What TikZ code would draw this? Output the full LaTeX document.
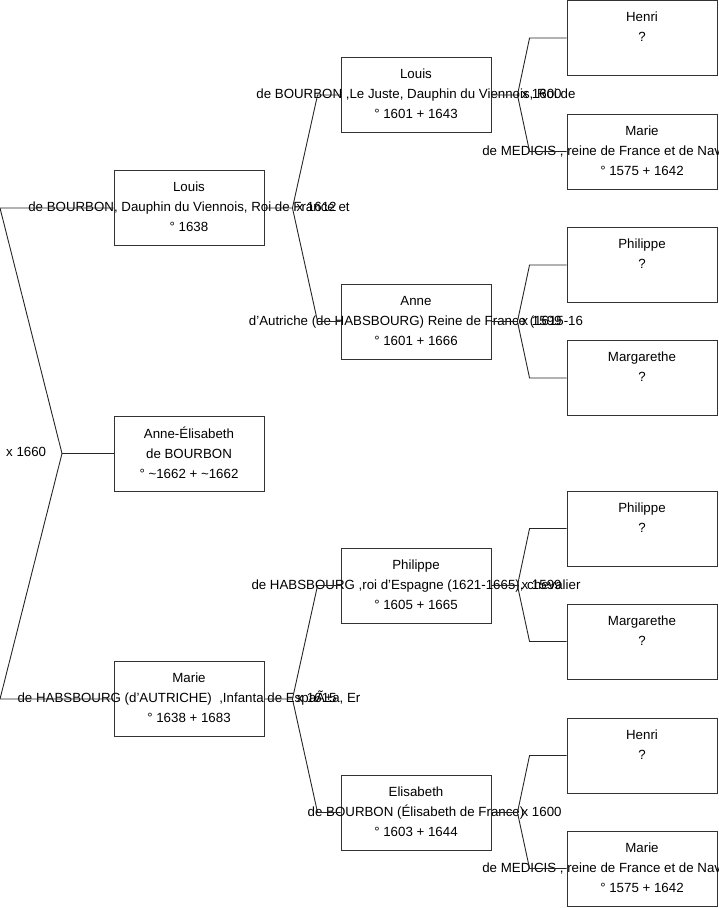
\documentclass[tikz,border=0pt]{standalone}
\usepackage{fontspec}
\setmainfont{Liberation Sans}
\usetikzlibrary{calc}
\begin{document}
\begin{tikzpicture}[x=1pt,y=-1pt,
  box/.style={draw=black!80, line width=0.9pt, minimum width=150pt, minimum height=75pt, inner sep=0pt},
  txt/.style={align=center, font=\fontsize{13.3pt}{20pt}\selectfont, inner sep=0pt, text=black},
  link/.style={draw=black!85, line width=0.9pt},
  mar/.style={anchor=west, font=\fontsize{13.3pt}{15pt}\selectfont, inner sep=0pt, text=black}]
\useasboundingbox (0,0) rectangle (719,908);
% boxes
\node[box] (A)  at (189,208) {};
\node[box] (B)  at (189,453.5) {};
\node[box] (C)  at (189,699) {};
\node[box] (A1) at (416,95) {};
\node[box] (A2) at (416,321.5) {};
\node[box] (C1) at (416,585.5) {};
\node[box] (C2) at (416,812.5) {};
\node[box] (A11) at (642,38) {};
\node[box] (A12) at (642,151.5) {};
\node[box] (A21) at (642,265) {};
\node[box] (A22) at (642,378) {};
\node[box] (C11) at (642,528.5) {};
\node[box] (C12) at (642,641.5) {};
\node[box] (C21) at (642,755.5) {};
\node[box] (C22) at (642,868.5) {};
% texts
\node[txt] (tA) at ($(A)+(0,-1)$) {Louis\\de BOURBON, Dauphin du Viennois, Roi de France et\\° 1638};
\node[txt] (tB) at ($(B)+(0,-1)$) {Anne-Élisabeth\\de BOURBON\\° \textasciitilde1662 + \textasciitilde1662};
\node[txt] (tC) at ($(C)+(0,-1)$) {Marie\\de HABSBOURG (d'AUTRICHE)\ \ ,Infanta de EspaÃ±a, Er\\° 1638 + 1683};
\node[txt] (tA1) at ($(A1)+(0,-1)$) {Louis\\de BOURBON ,Le Juste, Dauphin du Viennois, Roi de\\° 1601 + 1643};
\node[txt] (tA2) at ($(A2)+(0,-1)$) {Anne\\d'Autriche (de HABSBOURG) Reine de France (1615-16\\° 1601 + 1666};
\node[txt] (tC1) at ($(C1)+(0,-1)$) {Philippe\\de HABSBOURG ,roi d'Espagne (1621-1665), chevalier\\° 1605 + 1665};
\node[txt] (tC2) at ($(C2)+(0,-1)$) {Elisabeth\\de BOURBON (Élisabeth de France)\\° 1603 + 1644};
\node[txt] (tA11) at ($(A11)+(0,-11)$) {Henri\\?};
\node[txt] (tA12) at ($(A12)+(0,-1)$) {Marie\\de MEDICIS , reine de France et de Navarre (1600-16\\° 1575 + 1642};
\node[txt] (tA21) at ($(A21)+(0,-11)$) {Philippe\\?};
\node[txt] (tA22) at ($(A22)+(0,-11)$) {Margarethe\\?};
\node[txt] (tC11) at ($(C11)+(0,-11)$) {Philippe\\?};
\node[txt] (tC12) at ($(C12)+(0,-11)$) {Margarethe\\?};
\node[txt] (tC21) at ($(C21)+(0,-11)$) {Henri\\?};
\node[txt] (tC22) at ($(C22)+(0,-1)$) {Marie\\de MEDICIS , reine de France et de Navarre (1600-16\\° 1575 + 1642};
% root fork
\coordinate (rA) at (0,208);
\coordinate (rC) at (0,699);
\coordinate (rF) at (62,453.5);
\draw[link] (A.west) -- (rA) -- (rF) -- (rC) -- (C.west);
\draw[link] (rF) -- (B.west);
% level forks
\foreach \p/\a/\b in {A/A1/A2, C/C1/C2} {
  \draw[link] (\p.east) -- ++(28,0) coordinate (f\p) -- ($(\a.west)+(-23,0)$) -- (\a.west);
  \draw[link] (f\p) -- ($(\b.west)+(-23,0)$) -- (\b.west);
}
\foreach \p/\a/\b in {A1/A11/A12, A2/A21/A22, C1/C11/C12, C2/C21/C22} {
  \draw[link] (\p.east) -- ++(26,0) coordinate (f\p) -- ($(\a.west)+(-37,0)$) -- (\a.west);
  \draw[link] (f\p) -- ($(\b.west)+(-37,0)$) -- (\b.west);
}
% marriages
\node[mar] (m0) at (6,451.5) {x 1660};
\node[mar] (mA) at ($(fA)+(4,-1)$) {x 1612};
\node[mar] (mC) at ($(fC)+(4,-1)$) {x 1615};
\node[mar] (mA1) at ($(fA1)+(4,-1)$) {x 1600};
\node[mar] (mA2) at ($(fA2)+(4,-1)$) {x 1599};
\node[mar] (mC1) at ($(fC1)+(4,-1)$) {x 1599};
\node[mar] (mC2) at ($(fC2)+(4,-1)$) {x 1600};
\end{tikzpicture}
\end{document}
